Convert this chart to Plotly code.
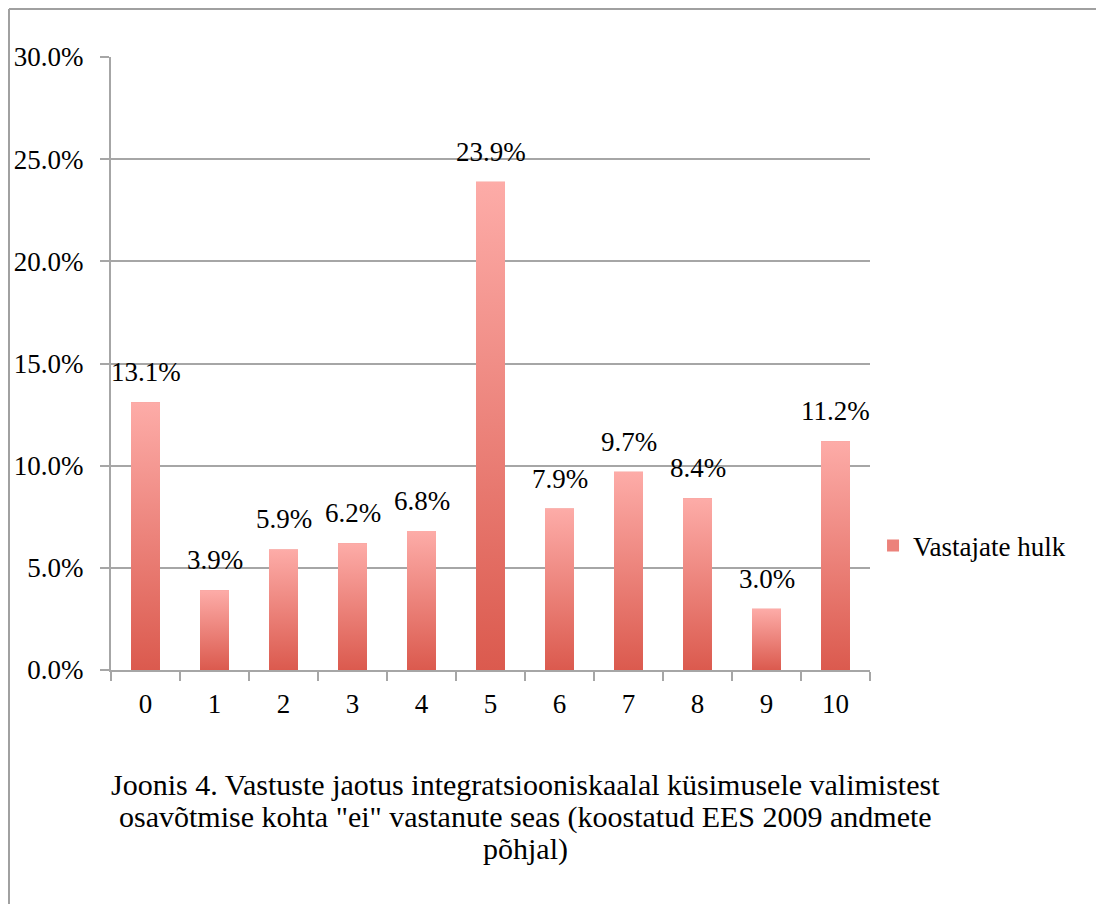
import plotly.graph_objects as go

categories = ["0", "1", "2", "3", "4", "5", "6", "7", "8", "9", "10"]
values = [0.131, 0.039, 0.059, 0.062, 0.068, 0.239, 0.079, 0.097, 0.084, 0.030, 0.112]
series_name = "Vastajate hulk"
y_ticks = [0.0, 0.05, 0.10, 0.15, 0.20, 0.25, 0.30]
caption_lines = [
    "Joonis 4. Vastuste jaotus integratsiooniskaalal küsimusele valimistest",
    "osavõtmise kohta \"ei\" vastanute seas (koostatud EES 2009 andmete",
    "põhjal)",
]

FONT = "Liberation Serif"
FS = 27
BAR_W = 0.42
TOP_C = "#FDACA8"
BOT_C = "#DB5A4E"
MID_C = "#EC827B"
GRID = "#A6A6A6"

xs = list(range(len(categories)))

fig = go.Figure()
fig.add_trace(go.Bar(
    x=xs, y=values, width=BAR_W, name=series_name,
    marker=dict(color=MID_C, line=dict(width=0)),
    hoverinfo="skip",
))
# vertical gradient overlay for each bar (computed from the data values)
for x, v in zip(xs, values):
    fig.add_trace(go.Scatter(
        x=[x - BAR_W / 2, x + BAR_W / 2, x + BAR_W / 2, x - BAR_W / 2, x - BAR_W / 2],
        y=[0, 0, v, v, 0], mode="lines", fill="toself",
        line=dict(width=0, color=MID_C),
        fillgradient=dict(type="vertical", colorscale=[[0, BOT_C], [1, TOP_C]]),
        showlegend=False, hoverinfo="skip",
    ))
    fig.add_annotation(x=x, y=v, text=f"{v*100:.1f}%", showarrow=False,
                       xanchor="center", yanchor="bottom", yshift=13,
                       font=dict(family=FONT, size=FS, color="#000"))

fig.update_layout(
    width=1096, height=896,
    margin=dict(l=103, r=234, t=49, b=234, autoexpand=False),
    paper_bgcolor="white", plot_bgcolor="white",
    font=dict(family=FONT, size=FS, color="#000"),
    showlegend=True,
    legend=dict(x=1.004, y=0.2023, xanchor="left", yanchor="middle",
                font=dict(family=FONT, size=FS, color="#000"),
                bgcolor="rgba(0,0,0,0)"),
    xaxis=dict(
        range=[-0.5, 10.5], tickmode="array", tickvals=xs, ticktext=categories,
        ticks="", showgrid=False, zeroline=False, automargin=False,
        showline=True, linecolor=GRID, linewidth=2,
        tickfont=dict(family=FONT, size=FS), ticklabelstandoff=9,
        minor=dict(tickmode="array", tickvals=[i - 0.5 for i in range(len(categories) + 1)],
                   ticks="outside", ticklen=9, tickwidth=2, tickcolor=GRID, showgrid=False),
    ),
    yaxis=dict(
        range=[0, 0.30], tickmode="array", tickvals=y_ticks, tickformat=".1%",
        ticks="outside", ticklen=9, tickwidth=2, tickcolor=GRID,
        showgrid=True, gridcolor=GRID, gridwidth=2, automargin=False,
        zeroline=False, showline=True, linecolor=GRID, linewidth=2,
        tickfont=dict(family=FONT, size=FS), ticklabelstandoff=11,
    ),
)

# outer frame (top and left edges visible)
fig.add_shape(type="line", xref="paper", yref="paper", x0=-0.1344, x1=1.6, y0=1.0783, y1=1.0783,
              line=dict(color="#A0A0A0", width=2))
fig.add_shape(type="line", xref="paper", yref="paper", x0=-0.1344, x1=-0.1344, y0=1.0783, y1=-0.5,
              line=dict(color="#A0A0A0", width=2))

for line, yp in zip(caption_lines, [-0.1876, -0.2398, -0.2920]):
    fig.add_annotation(text=line, xref="paper", yref="paper", x=0.546, y=yp,
                       xanchor="center", yanchor="middle", showarrow=False, align="center",
                       font=dict(family=FONT, size=30, color="#000"))

fig.write_html("out.html")
